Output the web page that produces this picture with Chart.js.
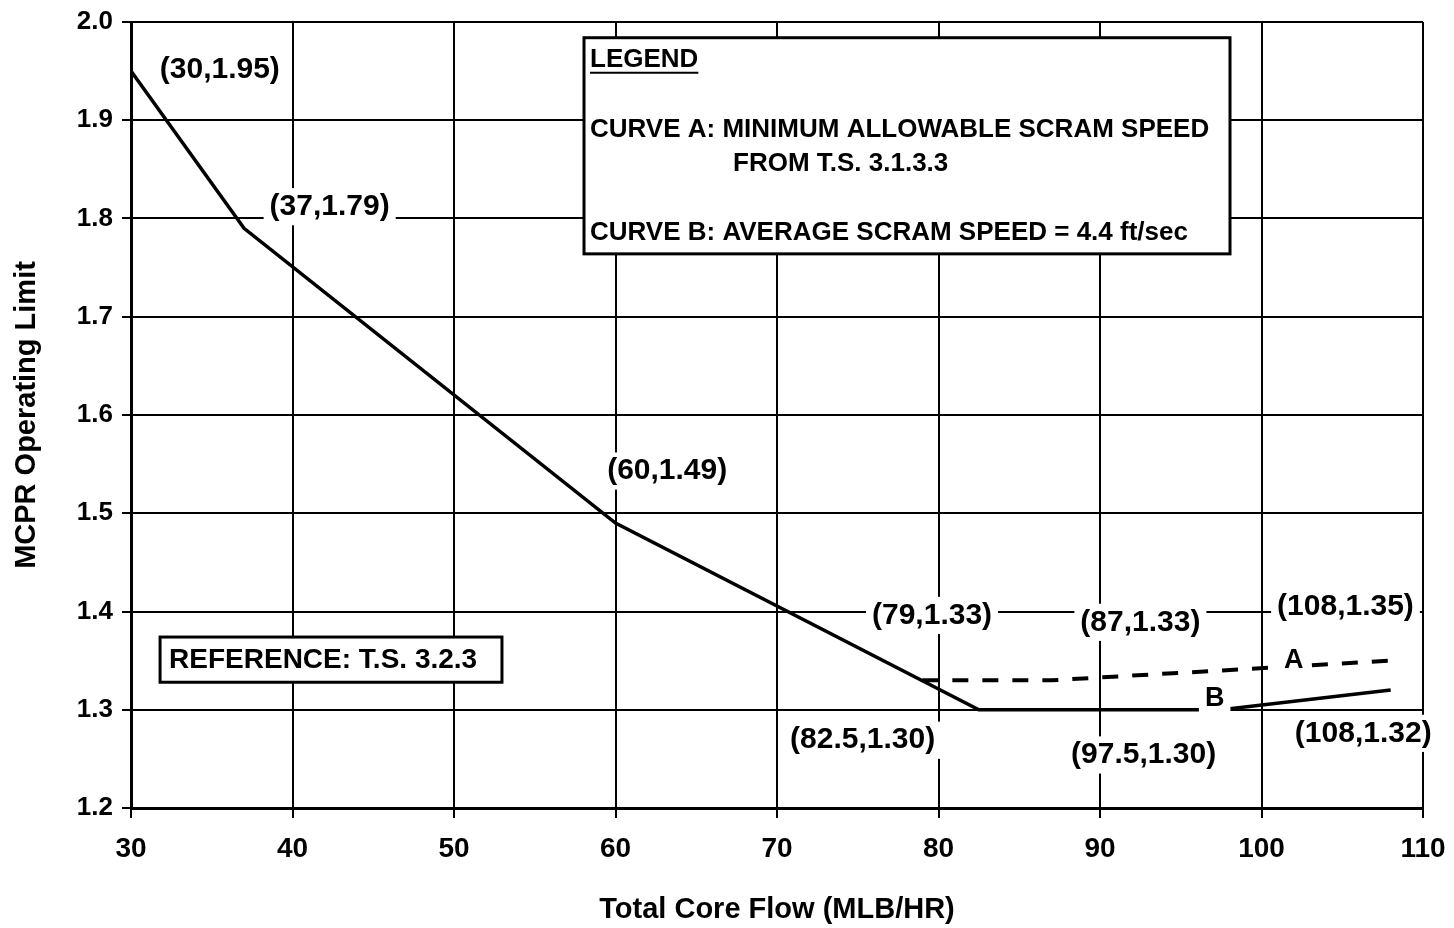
<!DOCTYPE html>
<html>
<head>
<meta charset="utf-8">
<script src="https://cdn.jsdelivr.net/npm/chart.js@4.4.1/dist/chart.umd.min.js"></script>
<style>
html, body { margin: 0; padding: 0; background: #fff; }
#wrap { width: 1454px; height: 928px; }
</style>
</head>
<body>
<div id="wrap"><canvas id="mcprChart" width="1454" height="928"></canvas></div>
<script>
// Curve B (solid), shared with curve A up to 79 MLB/HR
const flowB = [30, 37, 60, 82.5, 97.5, 108];
const mcprB = [1.95, 1.79, 1.49, 1.30, 1.30, 1.32];

// Curve A (dashed) branch
const flowA = [79, 87, 108];
const mcprA = [1.33, 1.33, 1.35];

const xTicks = [30, 40, 50, 60, 70, 80, 90, 100, 110];
const yTicks = ['1.2', '1.3', '1.4', '1.5', '1.6', '1.7', '1.8', '1.9', '2.0'];

const pointLabels = ['(30,1.95)', '(37,1.79)', '(60,1.49)', '(79,1.33)', '(87,1.33)',
    '(108,1.35)', '(82.5,1.30)', '(97.5,1.30)', '(108,1.32)', 'A', 'B'];

const legendLines = ['CURVE A: MINIMUM ALLOWABLE SCRAM SPEED', 'FROM T.S. 3.1.3.3',
    'CURVE B: AVERAGE SCRAM SPEED = 4.4 ft/sec'];

const FONT = '"Liberation Sans", Arial, Helvetica, sans-serif';

// where each label sits, in chart units (x flow, y mcpr)
const labelSpots = [
    [35.5, 1.951], [42.3, 1.812], [63.2, 1.543], [79.6, 1.396], [92.5, 1.389],
    [105.2, 1.405], [75.3, 1.269], [92.7, 1.254], [106.3, 1.276], [102.0, 1.350], [97.1, 1.311]
];

function toXY(xs, ys) {
    return xs.map((x, i) => ({ x: x, y: ys[i] }));
}

function labelText(ctx, text, cx, cy, size) {
    ctx.font = 'bold ' + size + 'px ' + FONT;
    const w = ctx.measureText(text).width;
    ctx.fillStyle = '#fff';
    ctx.fillRect(cx - w / 2 - 6, cy - size * 0.62, w + 12, size * 1.24);
    ctx.fillStyle = '#000';
    ctx.textAlign = 'center';
    ctx.textBaseline = 'middle';
    ctx.fillText(text, cx, cy);
}

const notesPlugin = {
    id: 'notes',
    afterDatasetsDraw(chart) {
        const ctx = chart.ctx;
        const xs = chart.scales.x, ys = chart.scales.y;
        ctx.save();

        pointLabels.forEach((t, i) => {
            const s = labelSpots[i];
            labelText(ctx, t, xs.getPixelForValue(s[0]), ys.getPixelForValue(s[1]), t.length === 1 ? 27 : 30);
        });

        // legend box
        const bl = xs.getPixelForValue(58.05), br = xs.getPixelForValue(98.05);
        const bt = ys.getPixelForValue(1.984), bb = ys.getPixelForValue(1.764);
        ctx.fillStyle = '#fff';
        ctx.fillRect(bl, bt, br - bl, bb - bt);
        ctx.strokeStyle = '#000';
        ctx.lineWidth = 3;
        ctx.strokeRect(bl, bt, br - bl, bb - bt);

        ctx.fillStyle = '#000';
        ctx.textAlign = 'left';
        ctx.textBaseline = 'middle';
        ctx.font = 'bold 26px ' + FONT;
        ctx.fillText('LEGEND', bl + 6, bt + 22);
        const lw = ctx.measureText('LEGEND').width;
        ctx.lineWidth = 2;
        ctx.beginPath();
        ctx.moveTo(bl + 6, bt + 35);
        ctx.lineTo(bl + 6 + lw, bt + 35);
        ctx.stroke();
        ctx.fillText(legendLines[0], bl + 6, bt + 92);
        ctx.fillText(legendLines[1], bl + 149, bt + 126);
        ctx.fillText(legendLines[2], bl + 6, bt + 195);

        // reference box
        const rl = xs.getPixelForValue(31.8), rr = xs.getPixelForValue(52.97);
        const rt = ys.getPixelForValue(1.374), rb = ys.getPixelForValue(1.328);
        ctx.fillStyle = '#fff';
        ctx.fillRect(rl, rt, rr - rl, rb - rt);
        ctx.lineWidth = 3;
        ctx.strokeRect(rl, rt, rr - rl, rb - rt);
        ctx.fillStyle = '#000';
        ctx.font = 'bold 28px ' + FONT;
        ctx.fillText('REFERENCE: T.S. 3.2.3', rl + 9, (rt + rb) / 2 + 1);

        ctx.restore();
    }
};

const ctx = document.getElementById('mcprChart').getContext('2d');

const config = {
    type: 'line',
    data: {
        datasets: [{
            label: 'Curve B',
            data: toXY(flowB, mcprB),
            borderColor: '#000',
            borderWidth: 3.5,
            pointRadius: 0,
            tension: 0,
            fill: false
        }, {
            label: 'Curve A',
            data: toXY(flowA, mcprA),
            borderColor: '#000',
            borderWidth: 4,
            borderDash: [16, 14],
            pointRadius: 0,
            tension: 0,
            fill: false
        }]
    },
    options: {
        responsive: false,
        animation: false,
        devicePixelRatio: 1,
        layout: {
            padding: { left: 0, top: 22, right: 31, bottom: 0 }
        },
        plugins: {
            legend: { display: false },
            tooltip: { enabled: false }
        },
        scales: {
            x: {
                type: 'linear',
                min: 30,
                max: 110,
                afterFit: function(scale) {
                    scale.height = 120;
                    scale.paddingLeft = 0;
                    scale.paddingRight = 0;
                },
                afterBuildTicks: function(scale) {
                    scale.ticks = xTicks.map(v => ({ value: v }));
                },
                ticks: {
                    color: '#000',
                    padding: 14,
                    font: { family: FONT, size: 28, weight: 'bold' },
                    callback: function(value) { return String(value); }
                },
                grid: { color: '#000', lineWidth: 2, tickLength: 10 },
                border: { color: '#000', width: 3 },
                title: {
                    display: true,
                    text: 'Total Core Flow (MLB/HR)',
                    color: '#000',
                    font: { family: FONT, size: 29, weight: 'bold' },
                    padding: { top: 0, bottom: 1 }
                }
            },
            y: {
                type: 'linear',
                min: 1.2,
                max: 2.0,
                afterFit: function(scale) {
                    scale.width = 131;
                    scale.paddingTop = 0;
                    scale.paddingBottom = 0;
                },
                afterBuildTicks: function(scale) {
                    scale.ticks = yTicks.map(v => ({ value: parseFloat(v) }));
                },
                ticks: {
                    color: '#000',
                    padding: 9,
                    font: { family: FONT, size: 26, weight: 'bold' },
                    callback: function(value) { return value.toFixed(1); }
                },
                grid: { color: '#000', lineWidth: 2, tickLength: 9 },
                border: { color: '#000', width: 3 },
                title: {
                    display: true,
                    text: 'MCPR Operating Limit',
                    color: '#000',
                    font: { family: FONT, size: 29, weight: 'bold' },
                    padding: { top: 10, bottom: 0 }
                }
            }
        }
    },
    plugins: [notesPlugin]
};

const mcprChart = new Chart(ctx, config);
</script>
</body>
</html>
